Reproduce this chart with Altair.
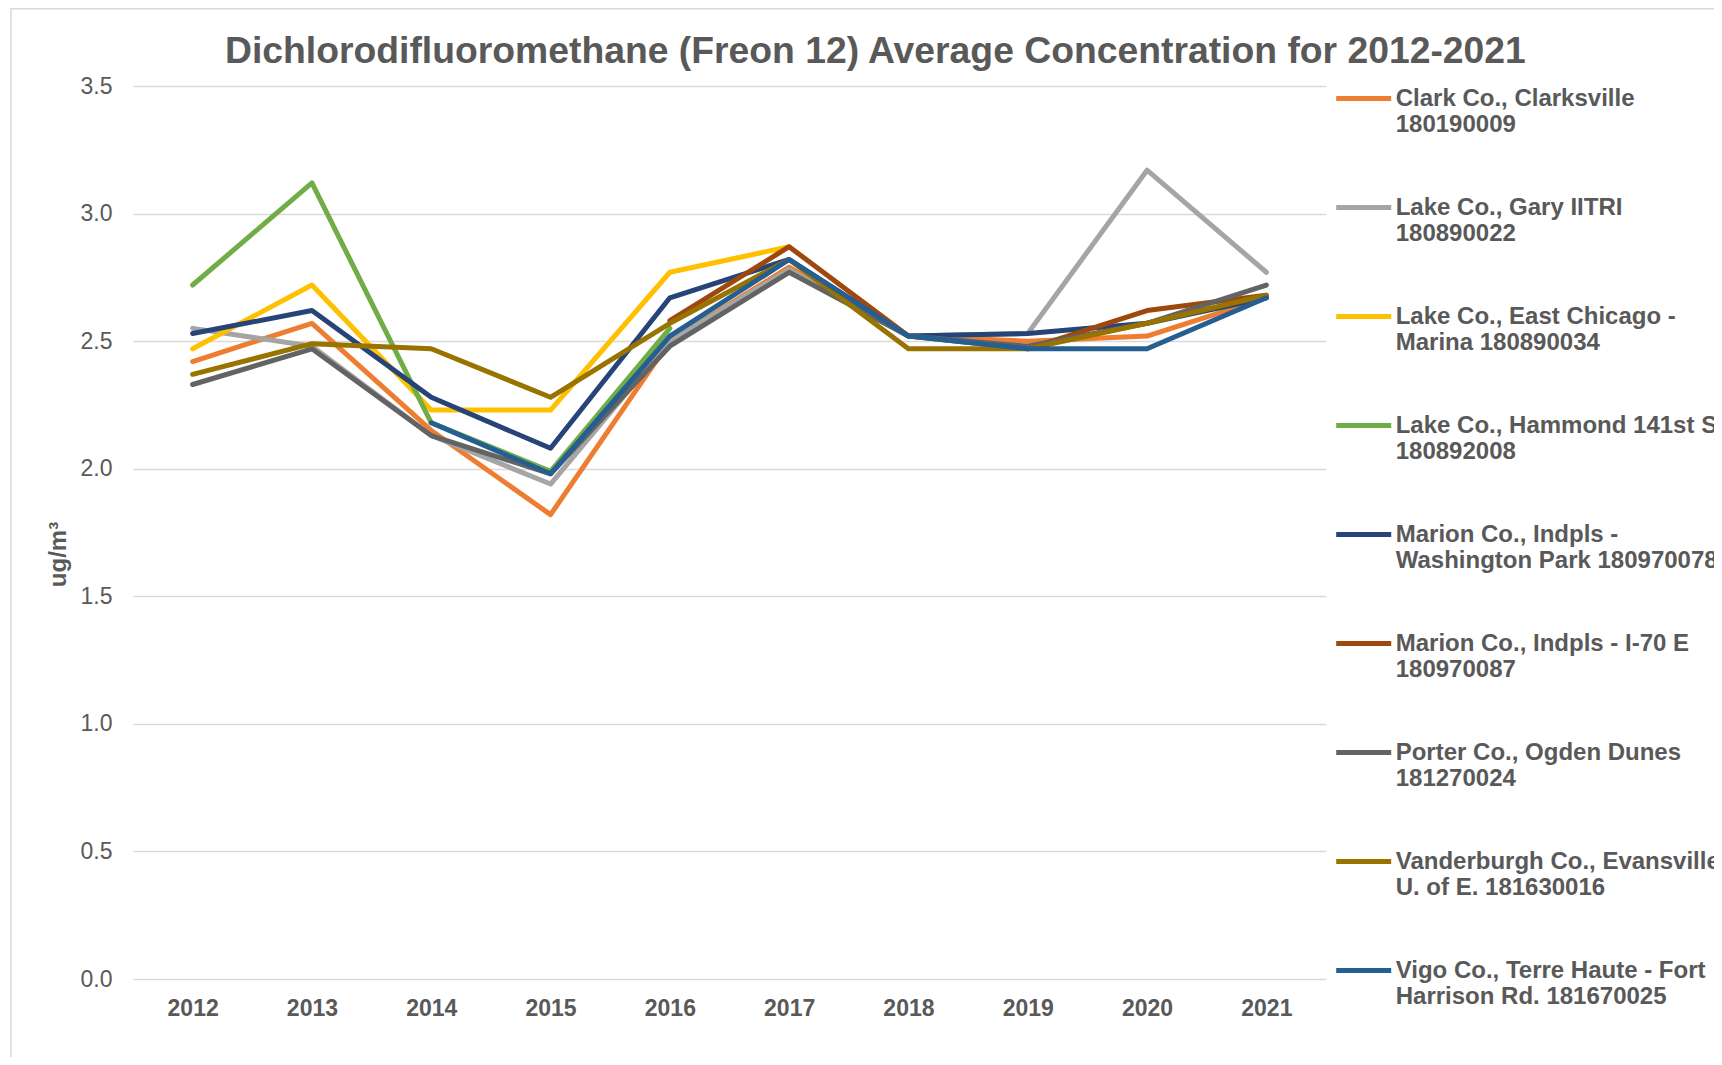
import altair as alt
import pandas as pd

years = [2012, 2013, 2014, 2015, 2016, 2017, 2018, 2019, 2020, 2021]

site_names = [
    "Clark Co., Clarksville|180190009",
    "Lake Co., Gary IITRI|180890022",
    "Lake Co., East Chicago -|Marina 180890034",
    "Lake Co., Hammond 141st St.|180892008",
    "Marion Co., Indpls -|Washington Park 180970078",
    "Marion Co., Indpls - I-70 E|180970087",
    "Porter Co., Ogden Dunes|181270024",
    "Vanderburgh Co., Evansville|U. of E. 181630016",
    "Vigo Co., Terre Haute - Fort|Harrison Rd. 181670025",
]

clark = [2.42, 2.57, 2.15, 1.82, 2.50, 2.79, 2.52, 2.50, 2.52, 2.67]
gary = [2.55, 2.48, 2.13, 1.94, 2.50, 2.78, 2.52, 2.53, 3.17, 2.77]
east_chicago = [2.47, 2.72, 2.23, 2.23, 2.77, 2.87, None, None, None, None]
hammond = [2.72, 3.12, 2.18, 1.99, 2.55, None, None, None, None, None]
washington_park = [2.53, 2.62, 2.28, 2.08, 2.67, 2.82, 2.52, 2.53, 2.57, 2.67]
i70 = [None, None, None, None, 2.58, 2.87, 2.52, 2.47, 2.62, 2.68]
porter = [2.33, 2.47, 2.13, 1.98, 2.48, 2.77, 2.52, 2.48, 2.57, 2.72]
vanderburgh = [2.37, 2.49, 2.47, 2.28, 2.57, 2.82, 2.47, 2.47, 2.57, 2.68]
vigo = [None, None, 2.18, 1.98, 2.52, 2.82, 2.52, 2.47, 2.47, 2.67]

series_values = [clark, gary, east_chicago, hammond, washington_park,
                 i70, porter, vanderburgh, vigo]

colors = ["#ED7D31", "#A5A5A5", "#FFC000", "#70AD47", "#264478",
          "#9E480E", "#636363", "#997300", "#255E91"]

y_ticks = [0.0, 0.5, 1.0, 1.5, 2.0, 2.5, 3.0, 3.5]

rows = []
for name, vals in zip(site_names, series_values):
    for yr, v in zip(years, vals):
        if v is not None:
            rows.append({"year": str(yr), "site": name, "value": v})
df = pd.DataFrame(rows)

FONT = "Liberation Sans"
TXT = "#595959"
W, H = 1193, 893

frame_df = pd.DataFrame({"k": [0]})
left_rule = alt.Chart(frame_df).mark_rule(color="#d9d9d9", strokeWidth=1.5).encode(
    x=alt.value(-122), y=alt.value(-78), y2=alt.value(H + 90)
)
top_rule = alt.Chart(frame_df).mark_rule(color="#d9d9d9", strokeWidth=1.5).encode(
    x=alt.value(-122), x2=alt.value(W + 420), y=alt.value(-77.3)
)

lines = alt.Chart(df).mark_line(
    strokeWidth=5, strokeCap="round", strokeJoin="round"
).encode(
    x=alt.X(
        "year:O",
        scale=alt.Scale(type="point", padding=0.5),
        axis=alt.Axis(
            title=None, labelAngle=0, labelFont=FONT, labelFontSize=23,
            labelFontWeight="bold", labelColor=TXT, labelPadding=18,
            ticks=False, tickSize=0, domain=False, grid=False,
        ),
    ),
    y=alt.Y(
        "value:Q",
        scale=alt.Scale(domain=[0, 3.5], nice=False, zero=True),
        axis=alt.Axis(
            values=y_ticks, format=".1f", title="ug/m³",
            labelFont=FONT, labelFontSize=23, labelColor=TXT, labelPadding=21,
            ticks=False, tickSize=0, domain=False,
            gridColor="#d9d9d9", gridWidth=1.5,
            titleFont=FONT, titleFontSize=24, titleFontWeight="bold", titleColor=TXT,
            titleX=-75, titleY=468, titleAngle=270, titleAlign="center",
            titleBaseline="middle",
        ),
    ),
    color=alt.Color(
        "site:N",
        scale=alt.Scale(domain=site_names, range=colors),
        legend=alt.Legend(
            title=None, orient="none", legendX=1200.7, legendY=-17.5,
            direction="vertical", labelExpr="split(datum.label, '|')",
            labelFont=FONT, labelFontSize=24, labelFontWeight="bold",
            labelColor=TXT, labelLimit=700, labelOffset=2,
            symbolType="M-1,0L1,0", symbolSize=3025, symbolStrokeWidth=5,
            rowPadding=41, padding=0,
        ),
    ),
)

chart = alt.layer(left_rule, top_rule, lines).properties(
    width=W,
    height=H,
    autosize=alt.AutoSizeParams(type="none"),
    padding={"left": 125, "top": 78, "right": 388, "bottom": 78},
    title=alt.TitleParams(
        "Dichlorodifluoromethane (Freon 12) Average Concentration for 2012-2021",
        font=FONT, fontSize=37.3, fontWeight="bold", color=TXT,
        anchor="start", frame="group", dx=92, dy=68,
    ),
).configure_view(stroke=None)

chart.save("out.html", embed_options={"renderer": "svg", "actions": False})
